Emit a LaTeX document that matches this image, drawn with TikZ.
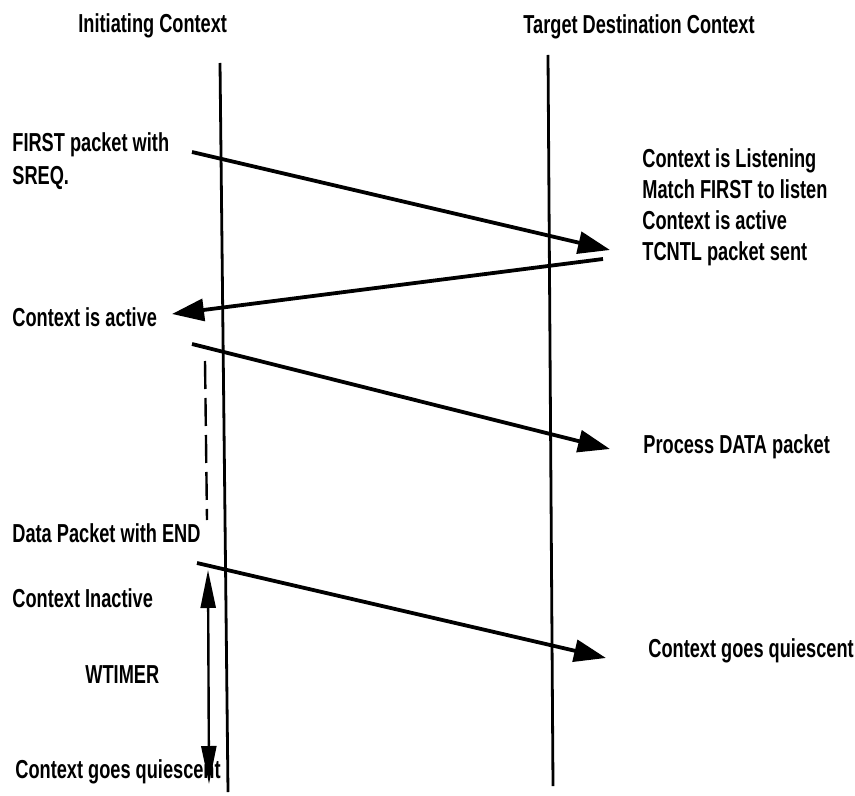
\documentclass[tikz,border=0pt]{standalone}
\usepackage{fontspec}
\usetikzlibrary{arrows.meta}
% condensed, heavy sans for all labels
\newfontfamily\lblfont[FakeStretch=0.70]{Liberation Sans Bold}
\begin{document}
\begin{tikzpicture}[x=0.5pt,y=-0.5pt,
  lbl/.style={anchor=base west,inner sep=0pt,font=\lblfont\fontsize{13pt}{15pt}\selectfont},
  lifeline/.style={line width=1.4pt},
  msg/.style={line width=1.9pt,-{Triangle[length=16pt,width=11pt]}},
  timer/.style={line width=1.2pt,{Triangle[length=19pt,width=7.5pt]}-{Triangle[length=19pt,width=7.5pt]}},
  waitline/.style={line width=1.2pt,dash pattern=on 14pt off 4.5pt}]
\useasboundingbox (0,0) rectangle (855,796);

% column headings
\node[lbl] (hInit) at (78,33) {Initiating Context};
\node[lbl] (hTarget) at (523,34) {Target Destination Context};

% lifelines
\coordinate (iTop) at (220,63);
\coordinate (iBot) at (228,792);
\coordinate (tTop) at (548,55);
\coordinate (tBot) at (553,786);
\draw[lifeline] (iTop) -- (iBot);
\draw[lifeline] (tTop) -- (tBot);

% initiating side labels
\node[lbl] (first1) at (12,152) {FIRST packet with};
\node[lbl] (first2) at (12,185) {SREQ.};
\node[lbl] (iActive) at (12,327) {Context is active};
\node[lbl] (dataEnd) at (12,542) {Data Packet with END};
\node[lbl] (inactive) at (12,607) {Context Inactive};
\node[lbl] (wtimer) at (85,683) {WTIMER};
\node[lbl] (iQuiet) at (15,778) {Context goes quiescent};

% target side labels
\node[lbl] (listen) at (642,168) {Context is Listening};
\node[lbl] (match) at (642,199) {Match FIRST to listen};
\node[lbl] (tActive) at (642,230) {Context is active};
\node[lbl] (tcntl) at (642,261) {TCNTL packet sent};
\node[lbl] (process) at (643,453) {Process DATA packet};
\node[lbl] (tQuiet) at (648,657) {Context goes quiescent};

% message end points
\coordinate (m1s) at (192,152);
\coordinate (m1e) at (610,250);
\coordinate (m2s) at (603,259);
\coordinate (m2e) at (172,314);
\coordinate (m3s) at (192,344);
\coordinate (m3e) at (610,449);
\coordinate (m4s) at (197,563);
\coordinate (m4e) at (606,658);

\draw[msg] (m1s) -- (m1e);
\draw[msg] (m2s) -- (m2e);
\draw[msg] (m3s) -- (m3e);
\draw[msg] (m4s) -- (m4e);

% active period and wait timer
\coordinate (wTop) at (205,361);
\coordinate (wBot) at (207,520);
\draw[waitline] (wTop) -- (wBot);

\coordinate (tmTop) at (208,570);
\coordinate (tmBot) at (209,784);
\draw[timer] (tmTop) -- (tmBot);
\end{tikzpicture}
\end{document}
